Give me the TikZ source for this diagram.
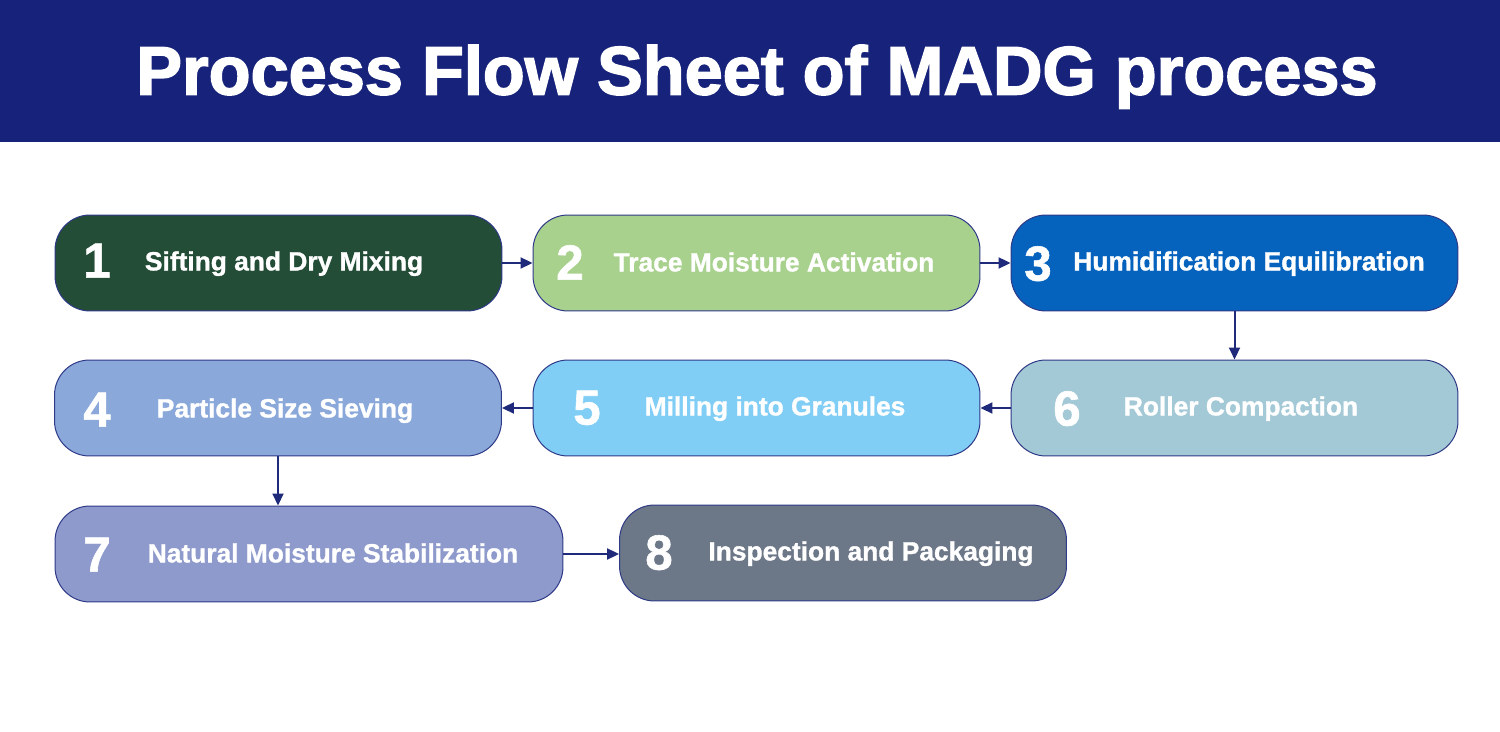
\documentclass[tikz,border=0pt]{standalone}
\usepackage{fontspec}
\setmainfont{Liberation Sans}[BoldFeatures={FakeBold=1.2}]
\newfontfamily\titlefont{Liberation Sans}[BoldFeatures={FakeBold=2.2}]
\usetikzlibrary{arrows.meta}

\tikzset{
  stepbox/.style={draw=r46g58b135, line width=0.02cm, rounded corners=0.7cm,
                  minimum width=8.94cm, minimum height=1.92cm, inner sep=0pt},
  stepnum/.style={text=white, font=\bfseries\fontsize{28}{30}\selectfont, inner sep=0pt,
                  text height=20pt, text depth=0pt},
  steptext/.style={text=white, font=\bfseries\fontsize{15}{18}\selectfont, inner sep=0pt,
                   text height=10.7pt, text depth=0pt},
  flow/.style={draw=r31g42b122, line width=0.04cm, -{Triangle[length=0.24cm,width=0.22cm]}}
}

\begin{document}
\begin{tikzpicture}[x=0.02cm,y=-0.02cm]
% Colours of the sheet
\definecolor{r23g35b122}{RGB}{23,35,122}%
\definecolor{r46g58b135}{RGB}{46,58,135}%
\definecolor{r31g42b122}{RGB}{31,42,122}%
\definecolor{r35g77b54}{RGB}{35,77,54}%
\definecolor{r169g209b142}{RGB}{169,209,142}%
\definecolor{r5g99b193}{RGB}{5,99,190}%
\definecolor{r142g169b219}{RGB}{138,169,218}%
\definecolor{r128g205b245}{RGB}{128,205,245}%
\definecolor{r163g201b214}{RGB}{163,201,214}%
\definecolor{r142g154b203}{RGB}{142,154,203}%
\definecolor{r108g119b135}{RGB}{108,119,135}%
\useasboundingbox (0,0) rectangle (1500,732);

% Title banner
\fill [r23g35b122] (0,0) rectangle (1500,142);
\draw (757,70) node [text=white, font=\titlefont\bfseries\fontsize{39}{44}\selectfont,
      inner sep=0pt, text height=27.9pt, text depth=0pt] (title) {Process Flow Sheet of MADG process};

% Step 1
\draw (278.5,263) node [stepbox, fill=r35g77b54] (b1) {};
\draw (97,260) node [stepnum] (n1) {1};
\draw (284,261) node [steptext] (t1) {Sifting and Dry Mixing};

% Step 2
\draw (756.5,263) node [stepbox, fill=r169g209b142] (b2) {};
\draw (570,262) node [stepnum] (n2) {2};
\draw (774,262) node [steptext] (t2) {Trace Moisture Activation};

% Step 3
\draw (1234.5,263) node [stepbox, fill=r5g99b193] (b3) {};
\draw (1038,263) node [stepnum] (n3) {3};
\draw (1249,261) node [steptext] (t3) {Humidification Equilibration};

% Step 4
\draw (278,408) node [stepbox, fill=r142g169b219] (b4) {};
\draw (97,409) node [stepnum] (n4) {4};
\draw (285,408) node [steptext] (t4) {Particle Size Sieving};

% Step 5
\draw (756.5,408) node [stepbox, fill=r128g205b245] (b5) {};
\draw (587,407) node [stepnum] (n5) {5};
\draw (775,406) node [steptext] (t5) {Milling into Granules};

% Step 6
\draw (1234.5,408) node [stepbox, fill=r163g201b214] (b6) {};
\draw (1067,408) node [stepnum] (n6) {6};
\draw (1241,406) node [steptext] (t6) {Roller Compaction};

% Step 7
\draw (309,554) node [stepbox, minimum width=10.16cm, fill=r142g154b203] (b7) {};
\draw (97,554) node [stepnum] (n7) {7};
\draw (333,553) node [steptext] (t7) {Natural Moisture Stabilization};

% Step 8
\draw (843,553) node [stepbox, fill=r108g119b135] (b8) {};
\draw (659,552) node [stepnum] (n8) {8};
\draw (871,551) node [steptext] (t8) {Inspection and Packaging};

% Drawing flow arrows
\draw [flow] (b1) -- (b2);
\draw [flow] (b2) -- (b3);
\draw [flow] (b3) -- (b6);
\draw [flow] (b6) -- (b5);
\draw [flow] (b5) -- (b4);
\draw [flow] (b4.south) -- (b4.south |- b7.north);
\draw [flow] (b7) -- (b7 -| b8.west);
\end{tikzpicture}
\end{document}
